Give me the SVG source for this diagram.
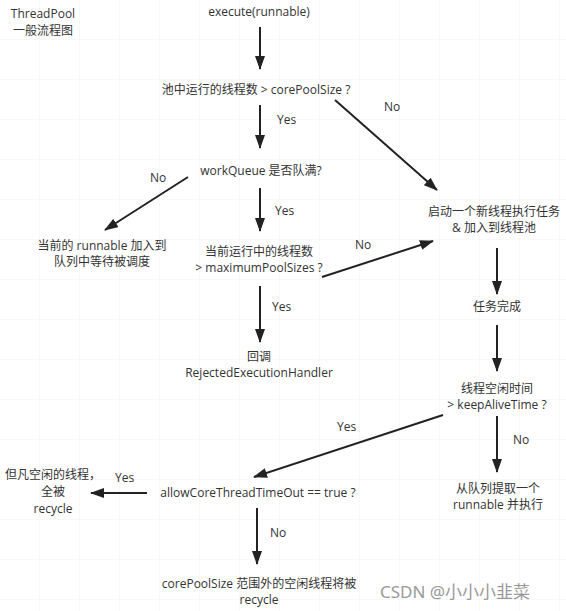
<svg xmlns="http://www.w3.org/2000/svg" width="566" height="611" viewBox="0 0 566 611">
<style>
.t{font-family:"Open Sans","Noto Sans CJK SC",sans-serif;font-size:12px;fill:#333;text-anchor:middle}
.l{font-family:"Open Sans","Noto Sans CJK SC",sans-serif;font-size:12px;fill:#333}
.c{stroke:#222;stroke-width:2;fill:none;marker-end:url(#ah)}
</style>
<defs>
<marker id="ah" viewBox="0 0 14 10" refX="13" refY="5" markerWidth="14" markerHeight="10" markerUnits="userSpaceOnUse" orient="auto">
<path d="M0,0 L14,5 L0,10 Z" fill="#222"/>
</marker>
<pattern id="g" width="40" height="40" patternUnits="userSpaceOnUse">
<path d="M40,0 V40 M0,40 H40" stroke="#f0f0f0" stroke-width="1" fill="none"/>
</pattern>
</defs>
<rect width="566" height="611" fill="#fff"/>
<rect width="566" height="611" fill="url(#g)"/>
<g id="title"><text class="t" x="43" y="18">ThreadPool</text><text class="t" x="43" y="35">一般流程图</text></g>
<g id="n-execute"><text class="t" x="259" y="16">execute(runnable)</text></g>
<g id="n-core"><text class="t" x="256" y="94">池中运行的线程数 &gt; corePoolSize ?</text></g>
<g id="n-queue"><text class="t" x="261" y="175">workQueue 是否队满?</text></g>
<g id="n-enqueue"><text class="t" x="102" y="250">当前的 runnable 加入到</text><text class="t" x="102" y="266">队列中等待被调度</text></g>
<g id="n-max"><text class="t" x="259" y="256">当前运行中的线程数</text><text class="t" x="259" y="272">&gt; maximumPoolSizes ?</text></g>
<g id="n-reject"><text class="t" x="259" y="361">回调</text><text class="t" x="259" y="377">RejectedExecutionHandler</text></g>
<g id="n-start"><text class="t" x="494" y="216">启动一个新线程执行任务</text><text class="t" x="494" y="232">&amp; 加入到线程池</text></g>
<g id="n-done"><text class="t" x="497" y="311">任务完成</text></g>
<g id="n-idle"><text class="t" x="497" y="393">线程空闲时间</text><text class="t" x="497" y="409">&gt; keepAliveTime ?</text></g>
<g id="n-take"><text class="t" x="498" y="493">从队列提取一个</text><text class="t" x="498" y="509">runnable 并执行</text></g>
<g id="n-allow"><text class="t" x="258" y="497">allowCoreThreadTimeOut == true ?</text></g>
<g id="n-all"><text class="t" x="53" y="479">但凡空闲的线程，</text><text class="t" x="53" y="496">全被</text><text class="t" x="53" y="513">recycle</text></g>
<g id="n-outside"><text class="t" x="259" y="588">corePoolSize 范围外的空闲线程将被</text><text class="t" x="259" y="604">recycle</text></g>
<g id="connectors">
<line class="c" x1="260" y1="27" x2="260" y2="69"/>
<line class="c" x1="335" y1="100" x2="437" y2="190"/>
<line class="c" x1="260" y1="105" x2="260" y2="148"/>
<line class="c" x1="188" y1="177" x2="105" y2="230"/>
<line class="c" x1="260" y1="188" x2="260" y2="231"/>
<line class="c" x1="322" y1="277" x2="433" y2="241"/>
<line class="c" x1="260" y1="286" x2="260" y2="342"/>
<line class="c" x1="497" y1="248" x2="497" y2="294"/>
<line class="c" x1="497" y1="325" x2="497" y2="371"/>
<line class="c" x1="443" y1="415" x2="254" y2="477"/>
<line class="c" x1="497" y1="416" x2="497" y2="472"/>
<line class="c" x1="147" y1="493" x2="91" y2="493"/>
<line class="c" x1="257" y1="508" x2="257" y2="564"/>
<text class="l" x="277" y="124">Yes</text>
<text class="l" x="384" y="111">No</text>
<text class="l" x="150" y="182">No</text>
<text class="l" x="275" y="215">Yes</text>
<text class="l" x="355" y="249">No</text>
<text class="l" x="272" y="311">Yes</text>
<text class="l" x="337" y="431">Yes</text>
<text class="l" x="513" y="444">No</text>
<text class="l" x="115" y="482">Yes</text>
<text class="l" x="270" y="537">No</text>
</g>
<g id="watermark"><text x="380" y="598" style="font-family:'Noto Sans','Noto Sans CJK SC',sans-serif;font-size:17px;fill:#999">CSDN @小小小韭菜</text></g>
</svg>
